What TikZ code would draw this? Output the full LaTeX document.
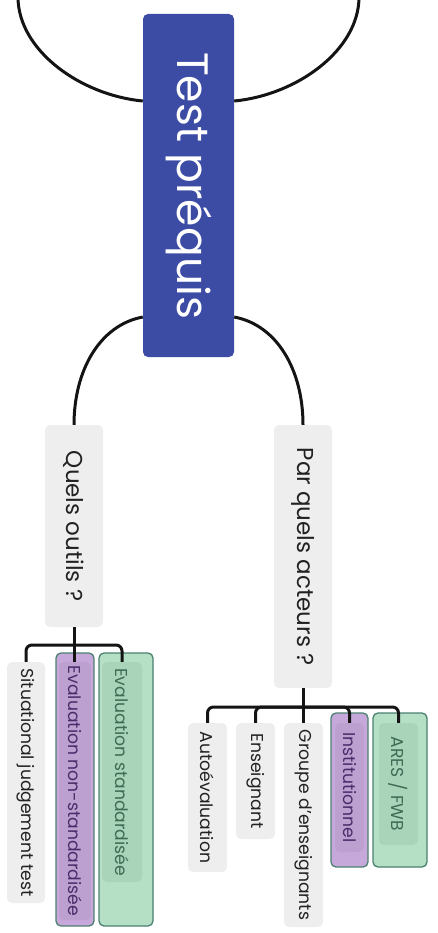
\documentclass[tikz,border=0pt]{standalone}
\usepackage{fontspec}
\setmainfont{Poppins}
\usetikzlibrary{calc}
\definecolor{rootblue}{HTML}{3C4CA5}
\definecolor{greybox}{HTML}{EEEEEE}
\definecolor{purpleout}{HTML}{C6A9DA}
\definecolor{purplein}{HTML}{BBA0D0}
\definecolor{greenout}{HTML}{B6E0C6}
\definecolor{greenin}{HTML}{A9D4B9}
\definecolor{bordergreen}{HTML}{4C8070}
\definecolor{purpletext}{HTML}{4B2C6B}
\definecolor{greentext}{HTML}{3E6B55}
\definecolor{textdark}{HTML}{222222}
\begin{document}
\begin{tikzpicture}[x=1pt,y=-1pt,
  box/.style={rotate=-90, rounded corners=5pt, inner sep=0pt, anchor=center},
  rootbox/.style={box, fill=rootblue, text=white, font=\fontsize{44}{50}\selectfont, minimum width=343pt, minimum height=91pt},
  qbox/.style={box, fill=greybox, text=textdark, font=\fontsize{23}{27}\selectfont, minimum height=58pt},
  leaf/.style={box, fill=greybox, text=textdark, font=\fontsize{17.2}{20}\selectfont},
  outerp/.style={box, fill=purpleout, draw=bordergreen, line width=1.3pt},
  outerg/.style={box, fill=greenout, draw=bordergreen, line width=1.3pt},
  innerp/.style={box, fill=purplein, text=purpletext, font=\fontsize{17.2}{20}\selectfont},
  innerg/.style={box, fill=greenin, text=greentext, font=\fontsize{17.2}{20}\selectfont},
  conn/.style={draw=black!92, line width=3pt},
  tree/.style={conn, rounded corners=6pt}
]
\useasboundingbox (0,0) rectangle (438,933);

% root
\node[rootbox] (root) at (188.5,185.5) {Test préquis};

% questions
\node[qbox, minimum width=202pt] (outils) at (74,526) {Quels outils ?};
\node[qbox, minimum width=263pt] (acteurs) at (303,556.5) {Par quels acteurs ?};

% outils leaves
\node[leaf, minimum width=241pt, minimum height=38pt] (sjt) at (26,782.5) {Situational judgement test};
\node[outerp, minimum width=273pt, minimum height=38pt] (ensout) at (75,789.5) {};
\node[innerp, minimum width=258pt, minimum height=32pt] (ensin) at (75,791) {Evaluation non-standardisée};
\node[outerg, minimum width=273pt, minimum height=54pt] (esout) at (126,789.5) {};
\node[innerg, minimum width=220pt, minimum height=40pt] (esin) at (122,772) {Evaluation standardisée};

% acteurs leaves
\node[leaf, minimum width=149pt, minimum height=39pt] (auto) at (207.5,797.5) {Autoévaluation};
\node[leaf, minimum width=116pt, minimum height=39pt] (ensg) at (255.5,781) {Enseignant};
\node[leaf, minimum width=204pt, minimum height=39pt] (groupe) at (303.5,825) {Groupe d'enseignants};
\node[outerp, minimum width=154pt, minimum height=37pt] (instout) at (349.5,790) {};
\node[innerp, minimum width=129pt, minimum height=29pt] (instin) at (349.5,787.5) {Institutionnel};
\node[outerg, minimum width=154pt, minimum height=54pt] (aresout) at (400,790) {};
\node[innerg, minimum width=122pt, minimum height=39pt] (aresin) at (398.5,784) {ARES / FWB};

% free ends
\coordinate (topL) at (18,-3);
\coordinate (topR) at (359,-3);
\coordinate (b1) at (74,645);
\coordinate (b2) at (303,707);

% arcs from root
\draw[conn] ($(root.south west)!0.254!(root.south east)$) .. controls (80,95) and (18,50) .. (topL);
\draw[conn] ($(root.north west)!0.254!(root.north east)$) .. controls (297,95) and (359,50) .. (topR);
\draw[conn] ($(root.south west)!0.883!(root.south east)$) .. controls (100,325) and (74,370) .. (outils.west);
\draw[conn] ($(root.north west)!0.883!(root.north east)$) .. controls (277,325) and (303,370) .. (acteurs.west);

% outils tree
\draw[conn] (outils.east) -- (outils.east |- ensin.west);
\draw[tree] (b1) -| (sjt.west);
\draw[tree] (b1) -| (esin.west);

% acteurs tree
\draw[conn] (acteurs.east) -- (acteurs.east |- groupe.west);
\draw[tree] (b2) -| (auto.west);
\draw[tree] (b2) -| (ensg.west);
\draw[tree] (b2) -| (instin.west);
\draw[tree] (b2) -| (aresin.west);
\end{tikzpicture}
\end{document}
